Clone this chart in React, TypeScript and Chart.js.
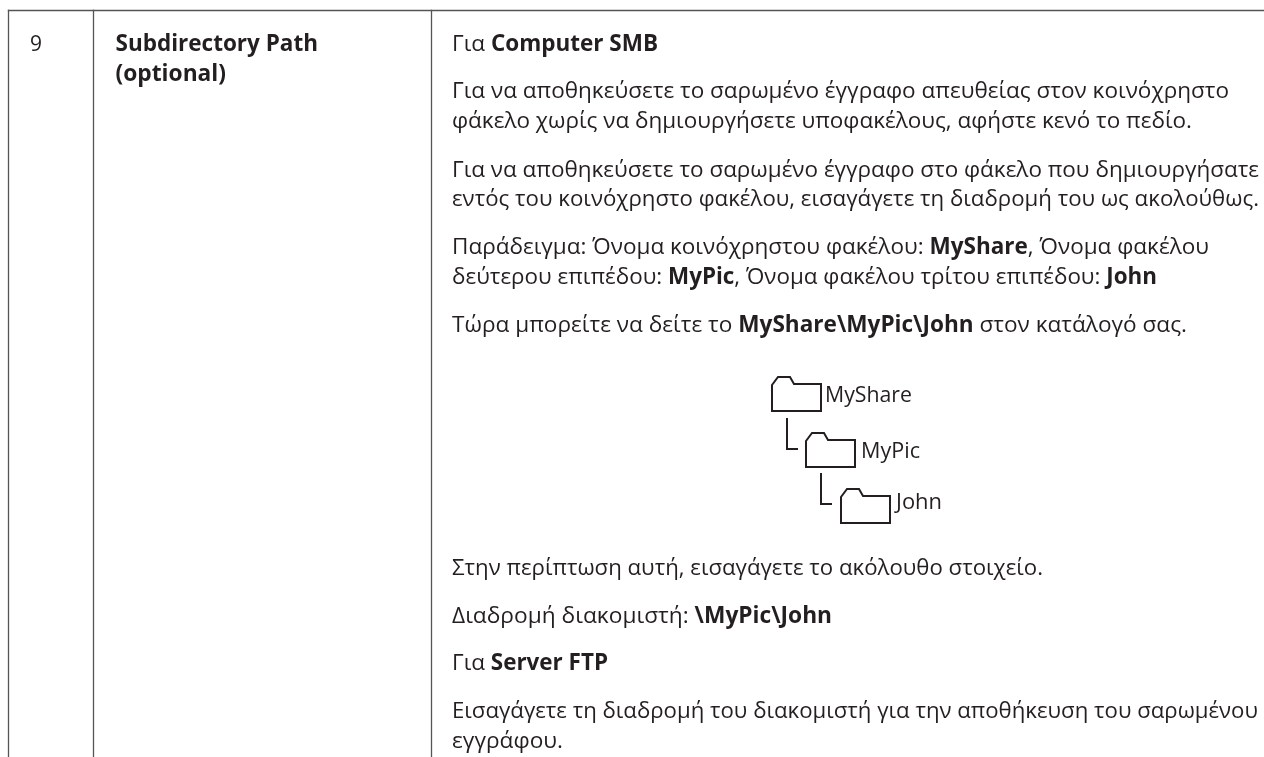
import React, { useEffect, useRef } from "react";
import { Chart, registerables } from "chart.js";

Chart.register(...registerables);

// Text runs: **…** marks bold
const rowNumber = "9";
const fieldName = ["**Subdirectory Path**", "**(optional)**"];
const bodyLines = [
  "Για **Computer SMB**",
  "Για να αποθηκεύσετε το σαρωμένο έγγραφο απευθείας στον κοινόχρηστο",
  "φάκελο χωρίς να δημιουργήσετε υποφακέλους, αφήστε κενό το πεδίο.",
  "Για να αποθηκεύσετε το σαρωμένο έγγραφο στο φάκελο που δημιουργήσατε",
  "εντός του κοινόχρηστο φακέλου, εισαγάγετε τη διαδρομή του ως ακολούθως.",
  "Παράδειγμα: Όνομα κοινόχρηστου φακέλου: **MyShare**, Όνομα φακέλου",
  "δεύτερου επιπέδου: **MyPic**, Όνομα φακέλου τρίτου επιπέδου: **John**",
  "Τώρα μπορείτε να δείτε το **MyShare\\MyPic\\John** στον κατάλογό σας.",
  "Στην περίπτωση αυτή, εισαγάγετε το ακόλουθο στοιχείο.",
  "Διαδρομή διακομιστή: **\\MyPic\\John**",
  "Για **Server FTP**",
  "Εισαγάγετε τη διαδρομή του διακομιστή για την αποθήκευση του σαρωμένου",
  "εγγράφου.",
];
const folderNames = ["MyShare", "MyPic", "John"];

const bodyBaselines = [51, 98, 128, 176.5, 206, 254, 284, 332, 574.5, 622.5, 670, 718, 747.5];
const bodyEnds = [658, 1229, 1192, 1259, 1259, 1209, 1157, 1187, 1043, 832, 608, 1258, 563];
const fieldBaselines = [51, 81];
const fieldEnds = [318, 226];
const folderTextX = [825, 861, 896];
const folderTextBaselines = [402, 458, 509];
const folderTextEnds = [912, 920, 942];

// Table rules
const ruleXs = [8.5, 93.5, 431.5];
const ruleTop = 10.5;
const ruleBottom = 757;
const ruleRight = 1264;

// Folder icons (top-left) and shape
const folderX = [772, 806, 841];
const folderY = [377, 433, 489];
const folderShapeX = [0, 0, 6, 18, 22, 49, 49, 0];
const folderShapeY = [34, 8, 0, 0, 7, 7, 34, 34];
const elbowX = [0, 0, 10];
const elbowY = [0, 30, 30];
const elbowOriginX = [787, 821];
const elbowOriginY = [419, 474];

const INK = "#231f20";
const RULE = "#555555";

type Pt = { x: number; y: number };
const zip = (xs: number[], ys: number[], ox = 0, oy = 0): Pt[] =>
  xs.map((x, i) => ({ x: x + ox, y: ys[i] + oy }));

const lineDs = (data: Pt[], color: string, width: number) => ({
  type: "line" as const,
  data,
  borderColor: color,
  borderWidth: width,
  pointRadius: 0,
  tension: 0,
  fill: false,
  borderJoinStyle: "miter" as const,
  borderCapStyle: "square" as const,
});

const parseRuns = (s: string) =>
  s.split("**").map((t, i) => ({ t, bold: i % 2 === 1 })).filter((r) => r.t.length);

const FONT = '"Open Sans"';
const SIZE = 22.5;

function drawLine(ctx: CanvasRenderingContext2D, s: string, x: number, base: number, end: number | null) {
  const runs = parseRuns(s);
  let natural = 0;
  for (const r of runs) {
    ctx.font = `${r.bold ? "700" : "400"} ${SIZE}px ${FONT}`;
    natural += ctx.measureText(r.t).width;
  }
  const k = end === null ? 1 : (end - x) / natural;
  ctx.save();
  ctx.translate(x, base);
  ctx.scale(k, 1);
  let cx = 0;
  for (const r of runs) {
    ctx.font = `${r.bold ? "700" : "400"} ${SIZE}px ${FONT}`;
    ctx.fillText(r.t, cx, 0);
    cx += ctx.measureText(r.t).width;
  }
  ctx.restore();
}

const textPlugin = {
  id: "pageText",
  afterDatasetsDraw(chart: any) {
    const { ctx, scales } = chart;
    const X = (v: number) => scales.x.getPixelForValue(v);
    const Y = (v: number) => scales.y.getPixelForValue(v);
    ctx.save();
    ctx.fillStyle = INK;
    ctx.textBaseline = "alphabetic";
    ctx.textAlign = "left";
    drawLine(ctx, rowNumber, X(30), Y(51), X(42));
    fieldName.forEach((s, i) => drawLine(ctx, s, X(115.5), Y(fieldBaselines[i]), X(fieldEnds[i])));
    bodyLines.forEach((s, i) => drawLine(ctx, s, X(452), Y(bodyBaselines[i]), X(bodyEnds[i])));
    folderNames.forEach((s, i) => drawLine(ctx, s, X(folderTextX[i]), Y(folderTextBaselines[i]), X(folderTextEnds[i])));
    ctx.restore();
  },
};

export default function App() {
  const ref = useRef<HTMLCanvasElement>(null);
  useEffect(() => {
    document.body.style.margin = "0";
    document.body.style.background = "#fff";
    const datasets: any[] = [
      lineDs(zip([ruleXs[0], ruleRight], [ruleTop, ruleTop]), RULE, 1.3),
      ...ruleXs.map((x) => lineDs(zip([x, x], [ruleTop, ruleBottom]), RULE, 1.3)),
      ...folderX.map((x, i) => lineDs(zip(folderShapeX, folderShapeY, x, folderY[i]), INK, 2)),
      ...elbowOriginX.map((x, i) => lineDs(zip(elbowX, elbowY, x, elbowOriginY[i]), INK, 2)),
    ];
    const chart = new Chart(ref.current!, {
      type: "line",
      data: { datasets },
      options: {
        animation: false,
        responsive: false,
        parsing: false,
        normalized: true,
        layout: { padding: 0 },
        plugins: { legend: { display: false }, tooltip: { enabled: false }, title: { display: false } },
        scales: {
          x: { type: "linear", min: 0, max: 1264, display: false },
          y: { type: "linear", min: 0, max: 757, reverse: true, display: false },
        },
      } as any,
      plugins: [textPlugin],
    });
    return () => chart.destroy();
  }, []);
  return <canvas ref={ref} width={1264} height={757} style={{ display: "block" }} />;
}
